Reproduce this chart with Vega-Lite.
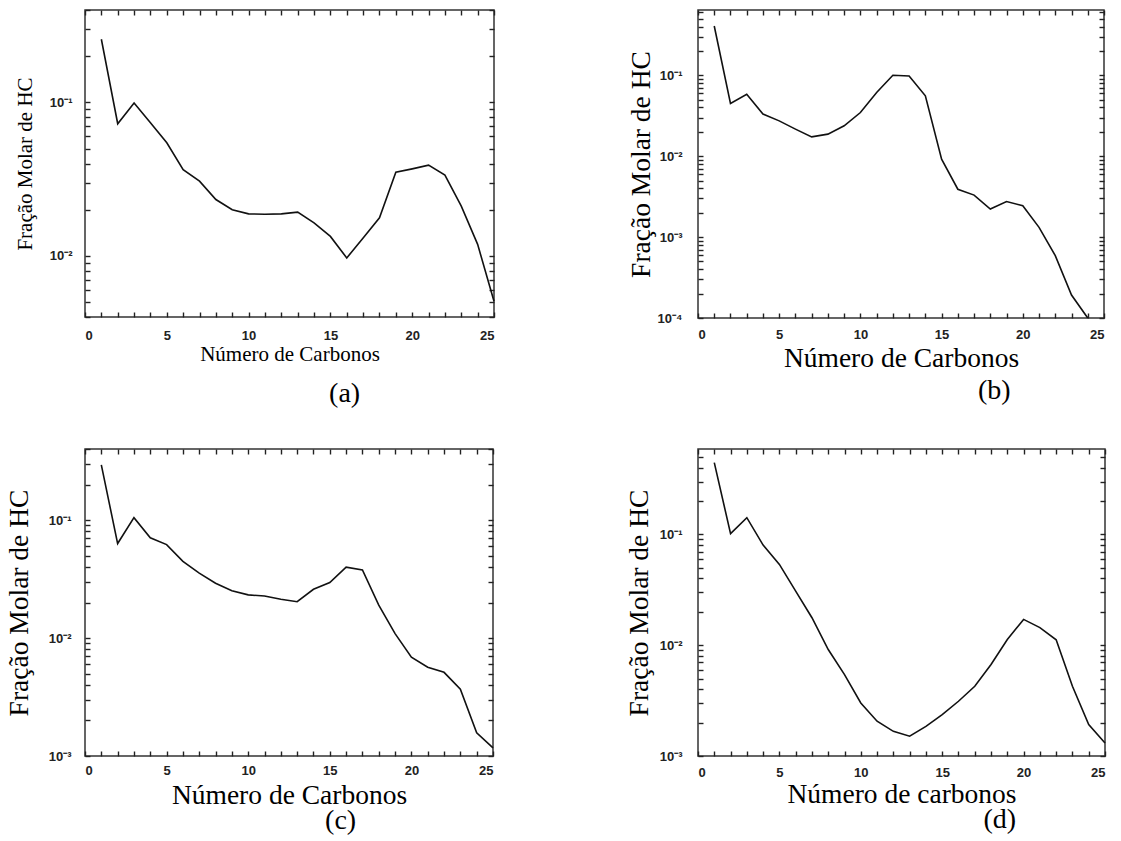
{
  "$schema": "https://vega.github.io/schema/vega-lite/v6.json",
  "background": "white",
  "padding": {"left": 4, "top": 8, "right": 0, "bottom": 0},
  "columns": 2,
  "spacing": {"column": 126, "row": 38},
  "datasets": {
    "dist": [
      {"painel": "a", "n": 1, "fracao": 0.258}, {"painel": "a", "n": 2, "fracao": 0.0726}, {"painel": "a", "n": 3, "fracao": 0.099},
      {"painel": "a", "n": 4, "fracao": 0.0737}, {"painel": "a", "n": 5, "fracao": 0.0546}, {"painel": "a", "n": 6, "fracao": 0.0365},
      {"painel": "a", "n": 7, "fracao": 0.0307}, {"painel": "a", "n": 8, "fracao": 0.0233}, {"painel": "a", "n": 9, "fracao": 0.02},
      {"painel": "a", "n": 10, "fracao": 0.0188}, {"painel": "a", "n": 11, "fracao": 0.0187}, {"painel": "a", "n": 12, "fracao": 0.0188},
      {"painel": "a", "n": 13, "fracao": 0.0193}, {"painel": "a", "n": 14, "fracao": 0.0164}, {"painel": "a", "n": 15, "fracao": 0.0134},
      {"painel": "a", "n": 16, "fracao": 0.0097}, {"painel": "a", "n": 17, "fracao": 0.0131}, {"painel": "a", "n": 18, "fracao": 0.0177},
      {"painel": "a", "n": 19, "fracao": 0.0351}, {"painel": "a", "n": 20, "fracao": 0.0369}, {"painel": "a", "n": 21, "fracao": 0.039},
      {"painel": "a", "n": 22, "fracao": 0.0336}, {"painel": "a", "n": 23, "fracao": 0.0211}, {"painel": "a", "n": 24, "fracao": 0.0119},
      {"painel": "a", "n": 25, "fracao": 0.00506},
      {"painel": "b", "n": 1, "fracao": 0.406}, {"painel": "b", "n": 2, "fracao": 0.0447}, {"painel": "b", "n": 3, "fracao": 0.0582},
      {"painel": "b", "n": 4, "fracao": 0.0331}, {"painel": "b", "n": 5, "fracao": 0.0273}, {"painel": "b", "n": 6, "fracao": 0.0216},
      {"painel": "b", "n": 7, "fracao": 0.0173}, {"painel": "b", "n": 8, "fracao": 0.0187}, {"painel": "b", "n": 9, "fracao": 0.0237},
      {"painel": "b", "n": 10, "fracao": 0.0346}, {"painel": "b", "n": 11, "fracao": 0.0611}, {"painel": "b", "n": 12, "fracao": 0.1},
      {"painel": "b", "n": 13, "fracao": 0.098}, {"painel": "b", "n": 14, "fracao": 0.0556}, {"painel": "b", "n": 15, "fracao": 0.0092},
      {"painel": "b", "n": 16, "fracao": 0.0039}, {"painel": "b", "n": 17, "fracao": 0.0033}, {"painel": "b", "n": 18, "fracao": 0.00222},
      {"painel": "b", "n": 19, "fracao": 0.00275}, {"painel": "b", "n": 20, "fracao": 0.00244}, {"painel": "b", "n": 21, "fracao": 0.00132},
      {"painel": "b", "n": 22, "fracao": 0.00059}, {"painel": "b", "n": 23, "fracao": 0.000192}, {"painel": "b", "n": 24, "fracao": 0.0001},
      {"painel": "c", "n": 1, "fracao": 0.293}, {"painel": "c", "n": 2, "fracao": 0.0632}, {"painel": "c", "n": 3, "fracao": 0.1047},
      {"painel": "c", "n": 4, "fracao": 0.0707}, {"painel": "c", "n": 5, "fracao": 0.0619}, {"painel": "c", "n": 6, "fracao": 0.0446},
      {"painel": "c", "n": 7, "fracao": 0.0355}, {"painel": "c", "n": 8, "fracao": 0.0291}, {"painel": "c", "n": 9, "fracao": 0.0252},
      {"painel": "c", "n": 10, "fracao": 0.0232}, {"painel": "c", "n": 11, "fracao": 0.0227}, {"painel": "c", "n": 12, "fracao": 0.0213},
      {"painel": "c", "n": 13, "fracao": 0.0203}, {"painel": "c", "n": 14, "fracao": 0.0259}, {"painel": "c", "n": 15, "fracao": 0.0295},
      {"painel": "c", "n": 16, "fracao": 0.0399}, {"painel": "c", "n": 17, "fracao": 0.0378}, {"painel": "c", "n": 18, "fracao": 0.019},
      {"painel": "c", "n": 19, "fracao": 0.0109}, {"painel": "c", "n": 20, "fracao": 0.00689}, {"painel": "c", "n": 21, "fracao": 0.00565},
      {"painel": "c", "n": 22, "fracao": 0.00512}, {"painel": "c", "n": 23, "fracao": 0.00369}, {"painel": "c", "n": 24, "fracao": 0.00157},
      {"painel": "c", "n": 25, "fracao": 0.00117},
      {"painel": "d", "n": 1, "fracao": 0.444}, {"painel": "d", "n": 2, "fracao": 0.1015}, {"painel": "d", "n": 3, "fracao": 0.1416},
      {"painel": "d", "n": 4, "fracao": 0.0801}, {"painel": "d", "n": 5, "fracao": 0.0536}, {"painel": "d", "n": 6, "fracao": 0.0308},
      {"painel": "d", "n": 7, "fracao": 0.0177}, {"painel": "d", "n": 8, "fracao": 0.00914}, {"painel": "d", "n": 9, "fracao": 0.00543},
      {"painel": "d", "n": 10, "fracao": 0.00301}, {"painel": "d", "n": 11, "fracao": 0.00206}, {"painel": "d", "n": 12, "fracao": 0.00167},
      {"painel": "d", "n": 13, "fracao": 0.00151}, {"painel": "d", "n": 14, "fracao": 0.00185}, {"painel": "d", "n": 15, "fracao": 0.00236},
      {"painel": "d", "n": 16, "fracao": 0.00312}, {"painel": "d", "n": 17, "fracao": 0.00426}, {"painel": "d", "n": 18, "fracao": 0.00669},
      {"painel": "d", "n": 19, "fracao": 0.01124}, {"painel": "d", "n": 20, "fracao": 0.0171}, {"painel": "d", "n": 21, "fracao": 0.0144},
      {"painel": "d", "n": 22, "fracao": 0.0112}, {"painel": "d", "n": 23, "fracao": 0.00426}, {"painel": "d", "n": 24, "fracao": 0.00192},
      {"painel": "d", "n": 25, "fracao": 0.00131}
    ]
  },
  "config": {
    "view": {"stroke": "#333", "strokeWidth": 1.5},
    "axis": {
      "domain": false, "grid": false, "offset": -5,
      "labelFont": "Liberation Sans", "labelFontWeight": "bold", "labelFontSize": 13, "labelColor": "#222",
      "titleFont": "Liberation Serif", "titleFontWeight": "normal", "titleColor": "#000",
      "ticks": true, "tickColor": "#222", "tickWidth": 1.4, "tickSize": 5, "tickOpacity": 1
    },
    "title": {"font": "Liberation Serif", "fontSize": 28, "fontWeight": "normal", "color": "#000", "orient": "bottom", "anchor": "end"}
  },
  "concat": [
    {
      "width": 409, "height": 307,
      "title": {"text": "(a)", "dx": -137, "offset": 16},
      "data": {"name": "dist"},
      "transform": [{"filter": "datum.painel == 'a'"}],
      "layer": [
        {
          "mark": {"type": "line", "color": "#111", "strokeWidth": 1.6},
          "encoding": {
            "x": {"field": "n", "type": "quantitative", "scale": {"domain": [0, 25], "nice": false},
              "axis": {"orient": "bottom", "values": [0,1,2,3,4,5,6,7,8,9,10,11,12,13,14,15,16,17,18,19,20,21,22,23,24,25],
                "labelExpr": "datum.value % 5 == 0 ? datum.label : ''", "labelPadding": 12,
                "title": "Número de Carbonos", "titleFontSize": 21, "titlePadding": 1}},
            "y": {"field": "fracao", "type": "quantitative", "scale": {"type": "log", "domain": [0.004, 0.4], "nice": false},
              "axis": {"orient": "left", "values": [0.004,0.005,0.006,0.007,0.008,0.009,0.01,0.02,0.03,0.04,0.05,0.06,0.07,0.08,0.09,0.1,0.2,0.3,0.4],
                "labelExpr": "datum.value == 0.1 ? '10⁻¹' : datum.value == 0.01 ? '10⁻²' : datum.value == 0.001 ? '10⁻³' : datum.value == 0.0001 ? '10⁻⁴' : ''",
                "labelPadding": 13,
                "title": "Fração Molar de HC", "titleFontSize": 21, "titlePadding": 14}}
          }
        },
        {
          "mark": {"type": "line", "opacity": 0},
          "encoding": {
            "x": {"field": "n", "type": "quantitative",
              "axis": {"orient": "top", "values": [0,1,2,3,4,5,6,7,8,9,10,11,12,13,14,15,16,17,18,19,20,21,22,23,24,25], "labels": false, "title": null}},
            "y": {"field": "fracao", "type": "quantitative",
              "axis": {"orient": "right", "values": [0.004,0.005,0.006,0.007,0.008,0.009,0.01,0.02,0.03,0.04,0.05,0.06,0.07,0.08,0.09,0.1,0.2,0.3,0.4], "labels": false, "title": null}}
          }
        }
      ],
      "resolve": {"axis": {"x": "independent", "y": "independent"}}
    },
    {
      "width": 406, "height": 308,
      "title": {"text": "(b)", "dx": -94, "offset": 5},
      "data": {"name": "dist"},
      "transform": [{"filter": "datum.painel == 'b'"}],
      "layer": [
        {
          "mark": {"type": "line", "color": "#111", "strokeWidth": 1.6},
          "encoding": {
            "x": {"field": "n", "type": "quantitative", "scale": {"domain": [0, 25], "nice": false},
              "axis": {"orient": "bottom", "values": [0,1,2,3,4,5,6,7,8,9,10,11,12,13,14,15,16,17,18,19,20,21,22,23,24,25],
                "labelExpr": "datum.value % 5 == 0 ? datum.label : ''", "labelPadding": 10,
                "title": "Número de Carbonos", "titleFontSize": 27.5, "titlePadding": 3}},
            "y": {"field": "fracao", "type": "quantitative", "scale": {"type": "log", "domain": [0.0001, 0.64], "nice": false},
              "axis": {"orient": "left", "values": [0.0001,0.0002,0.0003,0.0004,0.0005,0.0006,0.0007,0.0008,0.0009,0.001,0.002,0.003,0.004,0.005,0.006,0.007,0.008,0.009,0.01,0.02,0.03,0.04,0.05,0.06,0.07,0.08,0.09,0.1,0.2,0.3,0.4,0.5,0.6],
                "labelExpr": "datum.value == 0.1 ? '10⁻¹' : datum.value == 0.01 ? '10⁻²' : datum.value == 0.001 ? '10⁻³' : datum.value == 0.0001 ? '10⁻⁴' : ''",
                "labelPadding": 16,
                "title": "Fração Molar de HC", "titleFontSize": 27.5, "titlePadding": 2}}
          }
        },
        {
          "mark": {"type": "line", "opacity": 0},
          "encoding": {
            "x": {"field": "n", "type": "quantitative",
              "axis": {"orient": "top", "values": [0,1,2,3,4,5,6,7,8,9,10,11,12,13,14,15,16,17,18,19,20,21,22,23,24,25], "labels": false, "title": null}},
            "y": {"field": "fracao", "type": "quantitative",
              "axis": {"orient": "right", "values": [0.0001,0.0002,0.0003,0.0004,0.0005,0.0006,0.0007,0.0008,0.0009,0.001,0.002,0.003,0.004,0.005,0.006,0.007,0.008,0.009,0.01,0.02,0.03,0.04,0.05,0.06,0.07,0.08,0.09,0.1,0.2,0.3,0.4,0.5,0.6], "labels": false, "title": null}}
          }
        }
      ],
      "resolve": {"axis": {"x": "independent", "y": "independent"}}
    },
    {
      "width": 408, "height": 307,
      "title": {"text": "(c)", "dx": -140, "offset": -2},
      "data": {"name": "dist"},
      "transform": [{"filter": "datum.painel == 'c'"}],
      "layer": [
        {
          "mark": {"type": "line", "color": "#111", "strokeWidth": 1.6},
          "encoding": {
            "x": {"field": "n", "type": "quantitative", "scale": {"domain": [0, 25], "nice": false},
              "axis": {"orient": "bottom", "values": [0,1,2,3,4,5,6,7,8,9,10,11,12,13,14,15,16,17,18,19,20,21,22,23,24,25],
                "labelExpr": "datum.value % 5 == 0 ? datum.label : ''", "labelPadding": 8,
                "title": "Número de Carbonos", "titleFontSize": 27.5, "titlePadding": 4}},
            "y": {"field": "fracao", "type": "quantitative", "scale": {"type": "log", "domain": [0.001, 0.4], "nice": false},
              "axis": {"orient": "left", "values": [0.001,0.002,0.003,0.004,0.005,0.006,0.007,0.008,0.009,0.01,0.02,0.03,0.04,0.05,0.06,0.07,0.08,0.09,0.1,0.2,0.3,0.4],
                "labelExpr": "datum.value == 0.1 ? '10⁻¹' : datum.value == 0.01 ? '10⁻²' : datum.value == 0.001 ? '10⁻³' : datum.value == 0.0001 ? '10⁻⁴' : ''",
                "labelPadding": 14,
                "title": "Fração Molar de HC", "titleFontSize": 27.5, "titlePadding": 15}}
          }
        },
        {
          "mark": {"type": "line", "opacity": 0},
          "encoding": {
            "x": {"field": "n", "type": "quantitative",
              "axis": {"orient": "top", "values": [0,1,2,3,4,5,6,7,8,9,10,11,12,13,14,15,16,17,18,19,20,21,22,23,24,25], "labels": false, "title": null}},
            "y": {"field": "fracao", "type": "quantitative",
              "axis": {"orient": "right", "values": [0.001,0.002,0.003,0.004,0.005,0.006,0.007,0.008,0.009,0.01,0.02,0.03,0.04,0.05,0.06,0.07,0.08,0.09,0.1,0.2,0.3,0.4], "labels": false, "title": null}}
          }
        }
      ],
      "resolve": {"axis": {"x": "independent", "y": "independent"}}
    },
    {
      "width": 407, "height": 307,
      "title": {"text": "(d)", "dx": -92, "offset": -2},
      "data": {"name": "dist"},
      "transform": [{"filter": "datum.painel == 'd'"}],
      "layer": [
        {
          "mark": {"type": "line", "color": "#111", "strokeWidth": 1.6},
          "encoding": {
            "x": {"field": "n", "type": "quantitative", "scale": {"domain": [0, 25], "nice": false},
              "axis": {"orient": "bottom", "values": [0,1,2,3,4,5,6,7,8,9,10,11,12,13,14,15,16,17,18,19,20,21,22,23,24,25],
                "labelExpr": "datum.value % 5 == 0 ? datum.label : ''", "labelPadding": 10,
                "title": "Número de carbonos", "titleFontSize": 27.5, "titlePadding": 1}},
            "y": {"field": "fracao", "type": "quantitative", "scale": {"type": "log", "domain": [0.001, 0.59], "nice": false},
              "axis": {"orient": "left", "values": [0.001,0.002,0.003,0.004,0.005,0.006,0.007,0.008,0.009,0.01,0.02,0.03,0.04,0.05,0.06,0.07,0.08,0.09,0.1,0.2,0.3,0.4,0.5],
                "labelExpr": "datum.value == 0.1 ? '10⁻¹' : datum.value == 0.01 ? '10⁻²' : datum.value == 0.001 ? '10⁻³' : datum.value == 0.0001 ? '10⁻⁴' : ''",
                "labelPadding": 16,
                "title": "Fração Molar de HC", "titleFontSize": 27.5, "titlePadding": 6}}
          }
        },
        {
          "mark": {"type": "line", "opacity": 0},
          "encoding": {
            "x": {"field": "n", "type": "quantitative",
              "axis": {"orient": "top", "values": [0,1,2,3,4,5,6,7,8,9,10,11,12,13,14,15,16,17,18,19,20,21,22,23,24,25], "labels": false, "title": null}},
            "y": {"field": "fracao", "type": "quantitative",
              "axis": {"orient": "right", "values": [0.001,0.002,0.003,0.004,0.005,0.006,0.007,0.008,0.009,0.01,0.02,0.03,0.04,0.05,0.06,0.07,0.08,0.09,0.1,0.2,0.3,0.4,0.5], "labels": false, "title": null}}
          }
        }
      ],
      "resolve": {"axis": {"x": "independent", "y": "independent"}}
    }
  ]
}
